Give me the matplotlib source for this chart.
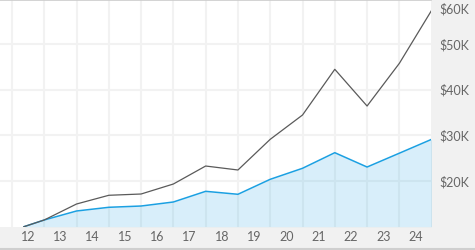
import matplotlib.pyplot as plt
import matplotlib.transforms as mtransforms
from matplotlib.ticker import FuncFormatter

# growth of $10K, inception mid-2012, then year-end values
dates = [2012.37, 2013, 2014, 2015, 2016, 2017, 2018, 2019, 2020, 2021, 2022, 2023, 2024, 2025]
benchmark = [10000, 11470, 14970, 16880, 17160, 19350, 23290, 22420, 29140, 34460, 44470, 36430, 45780, 57400]
fund = [10000, 11470, 13440, 14250, 14530, 15410, 17750, 17100, 20380, 22790, 26210, 23070, 26100, 29140]
year_labels = ['12', '13', '14', '15', '16', '17', '18', '19', '20', '21', '22', '23', '24']
first_year = 2012
y_ticks = [20000, 30000, 40000, 50000]
top_label = 60000

plt.rcParams['font.family'] = ['Lato', 'DejaVu Sans']

fig = plt.figure(figsize=(4.75, 2.5), dpi=100)
fig.patch.set_facecolor('#f1f1f1')
ax = fig.add_axes([0, 23.3 / 250, 431 / 475, 226.7 / 250])
ax.set_facecolor('white')

# year boundaries -> grid, year middles -> labels
bounds = [first_year + i for i in range(len(year_labels) + 1)]
mids = [first_year + i + 0.5 for i in range(len(year_labels))]
ax.set_xticks(bounds, minor=True)
ax.set_xticks(mids)
ax.set_xticklabels(year_labels)
ax.set_yticks(y_ticks)
ax.yaxis.tick_right()
ax.yaxis.set_major_formatter(FuncFormatter(lambda v, p: '${:.0f}K'.format(v / 1000)))

ax.grid(True, which='minor', axis='x', color='#f2f2f2', lw=1.5, zorder=0)
ax.grid(True, which='major', axis='y', color='#f2f2f2', lw=1.5, zorder=0)
ax.set_axisbelow(True)

ax.fill_between(dates, 10000, fund, color='#1ba0e2', alpha=0.17, lw=0, zorder=2)
ax.plot(dates, fund, color='#1ba0e2', lw=1.1, zorder=3)
ax.plot(dates, benchmark, color='#5a5a5a', lw=0.9, zorder=4)

ax.set_xlim(2011.63, 2024.98)
ax.set_ylim(10000, 59650)

ax.tick_params(axis='both', length=0, labelsize=9, labelcolor='#666666')
ax.tick_params(axis='x', which='minor', length=0)
ax.tick_params(axis='x', pad=3)
ax.tick_params(axis='y', pad=6)

# top label sits just below the top edge
trans = mtransforms.blended_transform_factory(ax.transAxes, ax.transData)
ax.annotate(ax.yaxis.get_major_formatter()(top_label, 0), xy=(1, top_label), xycoords=trans,
            xytext=(6, -8), textcoords='offset points', ha='left', va='center',
            fontsize=9, color='#666666', annotation_clip=False)

for s in ax.spines.values():
    s.set_visible(False)
ax.spines['top'].set_visible(True)
ax.spines['top'].set_color('#cccccc')
ax.spines['top'].set_linewidth(1.2)

# thin line along the bottom of the figure
fig.add_artist(plt.Line2D([0, 1], [1.5 / 250, 1.5 / 250], color='#cfcfcf', lw=1.5))

fig.savefig('out.png', dpi=100, facecolor=fig.get_facecolor())
